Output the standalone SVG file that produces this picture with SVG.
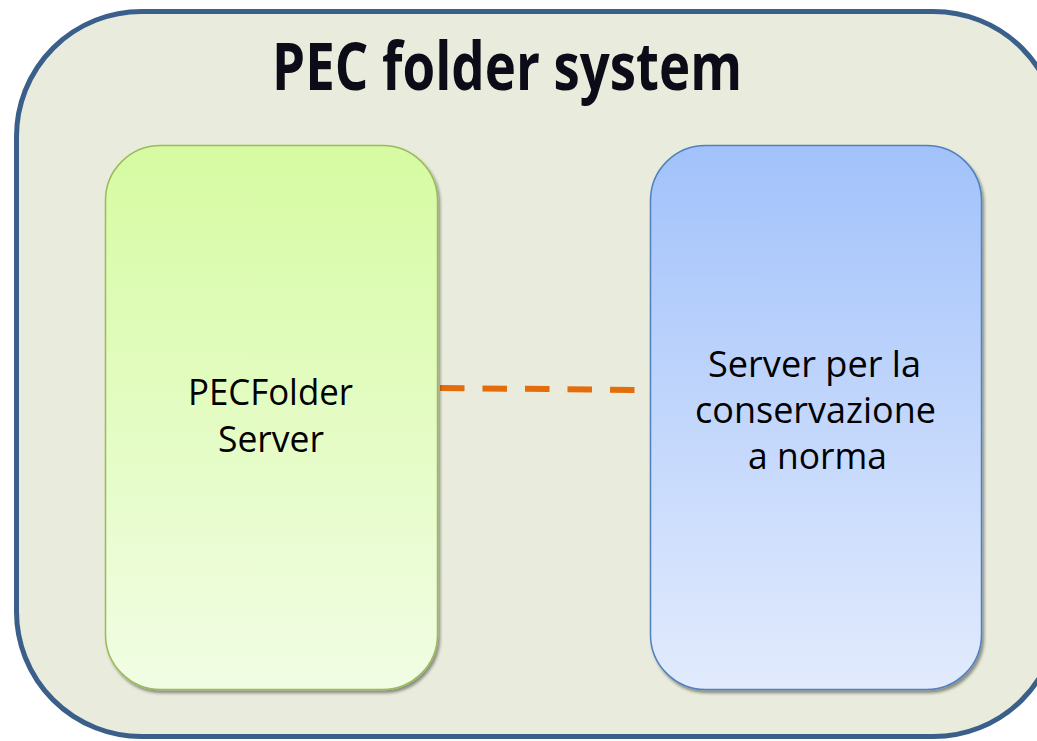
<svg xmlns="http://www.w3.org/2000/svg" width="1037" height="741" viewBox="0 0 1037 741">
<defs>
<linearGradient id="gGreen" x1="0" y1="0" x2="0" y2="1">
<stop offset="0" stop-color="#d6fba2"/>
<stop offset="1" stop-color="#f1fde4"/>
</linearGradient>
<linearGradient id="gBlue" x1="0" y1="0" x2="0" y2="1">
<stop offset="0" stop-color="#a2c2fb"/>
<stop offset="1" stop-color="#e2ebfd"/>
</linearGradient>
<filter id="shadow" x="-10%" y="-10%" width="120%" height="120%">
<feDropShadow dx="2" dy="3" stdDeviation="1.5" flood-color="#000" flood-opacity="0.4"/>
</filter>
<style>
.t{font-family:"Open Sans","Liberation Sans",sans-serif;fill:#000;text-anchor:middle}
.lbl{font-size:36px}
.title{font-size:67px;font-weight:700;fill:#0c0c18}
</style>
</defs>
<rect width="1037" height="741" fill="#ffffff"/>
<g id="container">
<rect x="16.5" y="11.5" width="1042" height="725" rx="125" ry="125" fill="#e9ecdc" stroke="#3a5f8b" stroke-width="5"/>
<text class="t title" x="507" y="90" textLength="470" lengthAdjust="spacingAndGlyphs">PEC folder system</text>
</g>
<g id="connectors">
<line x1="440" y1="388" x2="636" y2="390" stroke="#e46c0a" stroke-width="6" stroke-dasharray="24.5 18"/>
</g>
<g id="node-pecfolder">
<rect x="105.5" y="145.5" width="332" height="544" rx="55" ry="55" fill="url(#gGreen)" stroke="#9bbb59" stroke-width="1.5" filter="url(#shadow)"/>
<text class="t lbl" x="270.5" y="405" textLength="165" lengthAdjust="spacingAndGlyphs">PECFolder</text>
<text class="t lbl" x="271" y="452" textLength="106" lengthAdjust="spacingAndGlyphs">Server</text>
</g>
<g id="node-conservazione">
<rect x="650.5" y="145.5" width="331" height="544" rx="55" ry="55" fill="url(#gBlue)" stroke="#4f81bd" stroke-width="1.5" filter="url(#shadow)"/>
<text class="t lbl" x="814.5" y="377" textLength="213" lengthAdjust="spacingAndGlyphs">Server per la</text>
<text class="t lbl" x="815.5" y="423" textLength="241" lengthAdjust="spacingAndGlyphs">conservazione</text>
<text class="t lbl" x="817.5" y="469" textLength="139" lengthAdjust="spacingAndGlyphs">a norma</text>
</g>
</svg>
